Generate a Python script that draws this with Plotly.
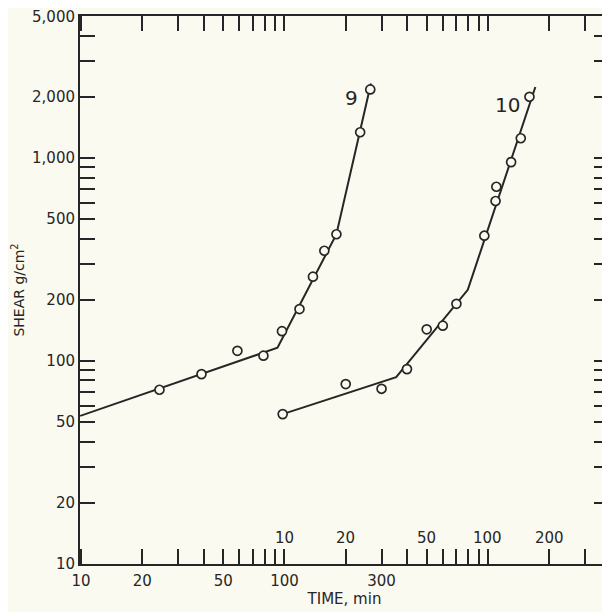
import math
import plotly.graph_objects as go

# ---- data ----
# curve 9: time (min, lower scale) vs shear (g/cm^2)
t9 = [24.3, 39.1, 58.7, 78.8, 97.2, 118.5, 138, 157, 180, 235.5, 264]
s9 = [72, 86, 112, 106, 140, 180, 260, 349, 421, 1340, 2180]
t9_fit = [9.9, 92.4, 180, 266]
s9_fit = [53.5, 116, 421, 2330]

# curve 10: time (min, upper inner scale) vs shear
t10 = [9.8, 20, 30, 40, 50, 60, 70, 96, 109, 110, 130, 145, 160]
s10 = [54.6, 76.8, 72.8, 91, 143, 149, 191, 414, 614, 722, 955, 1252, 2005]
t10_fit = [9.8, 35.4, 79.6, 171]
s10_fit = [54.6, 83.1, 224, 2240]

curve_labels = ["9", "10"]
label_pos = [(214, 1968), (125, 1824)]  # (time on own scale, shear)

x_tickvals = [10, 20, 50, 100, 300]
x_ticktext = ["10", "20", "50", "100", "300"]
x_minorvals = [30, 40, 60, 70, 80, 90, 200, 400, 500, 600, 700, 800, 900,
               1000, 2000, 3000]
x2_tickvals = [10, 20, 50, 100, 200]
x2_ticktext = ["10", "20", "50", "100", "200"]
y_tickvals = [10, 20, 50, 100, 200, 500, 1000, 2000, 5000]
y_ticktext = ["10", "20", "50", "100", "200", "500", "1,000", "2,000", "5,000"]
y_minorvals = [30, 40, 60, 70, 80, 90, 300, 400, 600, 700, 800, 900,
               3000, 4000]

# ---- styling ----
BG = "#FAFAF0"
INK = "#262626"
FONT = "DejaVu Sans"
XR = [0.995, 3.595]
YR = [0.998, 3.7005]

fig = go.Figure()

line_style = dict(color=INK, width=2)
marker_style = dict(symbol="circle", size=9, color=BG, line=dict(color=INK, width=1.7))

fig.add_trace(go.Scatter(x=t9_fit, y=s9_fit, mode="lines", line=line_style,
                         xaxis="x", yaxis="y", showlegend=False, hoverinfo="skip"))
fig.add_trace(go.Scatter(x=t10_fit, y=s10_fit, mode="lines", line=line_style,
                         xaxis="x2", yaxis="y", showlegend=False, hoverinfo="skip"))
fig.add_trace(go.Scatter(x=t9, y=s9, mode="markers", marker=marker_style,
                         xaxis="x", yaxis="y", showlegend=False, name="9"))
fig.add_trace(go.Scatter(x=t10, y=s10, mode="markers", marker=marker_style,
                         xaxis="x2", yaxis="y", showlegend=False, name="10"))

axis_common = dict(type="log", showgrid=False, zeroline=False, showline=True,
                   linecolor=INK, linewidth=2, mirror="ticks", ticks="inside",
                   ticklen=15, tickwidth=1.6, tickcolor=INK, automargin=False,
                   ticklabeloverflow="allow",
                   tickfont=dict(family=FONT, size=15, color=INK))
minor_common = dict(ticks="inside", ticklen=15, tickwidth=1.6, tickcolor=INK,
                    showgrid=False)

# the page body adds an 8px offset, so the figure is sized to fit the window
fig.update_layout(
    width=602, height=604,
    margin=dict(l=72, r=1, t=8, b=48),
    paper_bgcolor=BG, plot_bgcolor=BG,
    xaxis=dict(**axis_common, range=XR, tickvals=x_tickvals, ticktext=x_ticktext,
               ticklabelstandoff=2,
               minor=dict(**minor_common, tickvals=x_minorvals),
               title=dict(text="TIME, min", font=dict(family=FONT, size=15, color=INK),
                          standoff=3)),
    xaxis2=dict(type="log", overlaying="x", anchor="y", side="bottom",
                range=[XR[0] - 1, XR[1] - 1], showgrid=False, zeroline=False,
                showline=False, ticks="", showticklabels=False, automargin=False),
    yaxis=dict(**axis_common, range=YR, tickvals=y_tickvals, ticktext=y_ticktext,
               minor=dict(**minor_common, tickvals=y_minorvals),
               title=dict(text="SHEAR g/cm<sup>2</sup>",
                          font=dict(family=FONT, size=14, color=INK), standoff=4)),
)

# labels of the inner time scale (curve 10), placed on the x2 scale
for v, txt in zip(x2_tickvals, x2_ticktext):
    fig.add_annotation(x=math.log10(v), y=0, xref="x2", yref="paper",
                       yanchor="middle", yshift=26, text=txt, showarrow=False,
                       font=dict(family=FONT, size=15, color=INK))

for name, (tx, sy), xr in zip(curve_labels, label_pos, ["x", "x2"]):
    fig.add_annotation(x=math.log10(tx), y=math.log10(sy), xref=xr, yref="y",
                       text=name, showarrow=False,
                       font=dict(family=FONT, size=20, color=INK))

fig.write_html("out.html")
